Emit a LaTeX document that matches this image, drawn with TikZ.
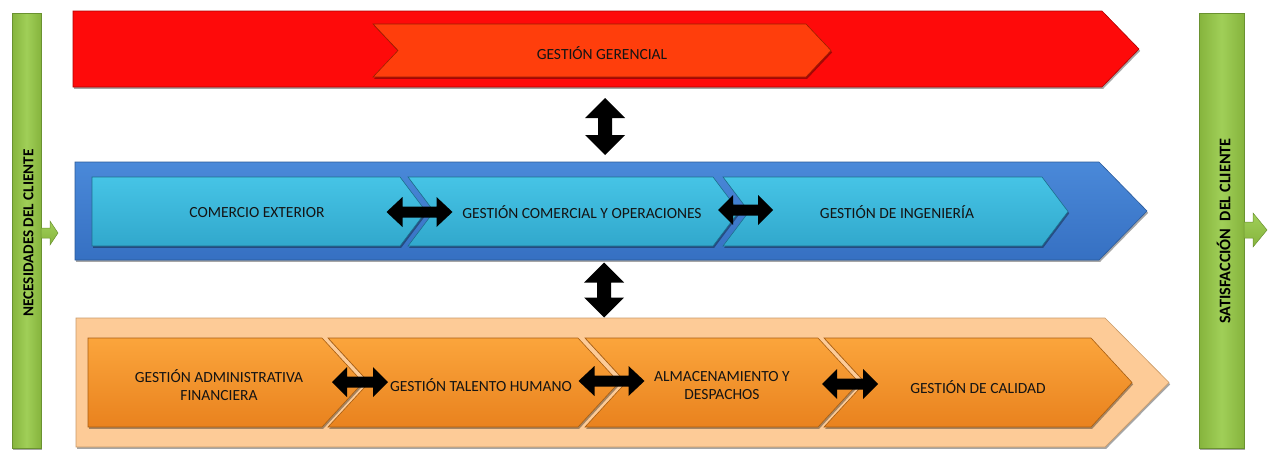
\documentclass[tikz,border=0pt]{standalone}
\usepackage{fontspec}
\setmainfont{Carlito}
\usetikzlibrary{shadows}

\definecolor{redband}{HTML}{FE0A0A}
\definecolor{redline}{HTML}{B00000}
\definecolor{redchev}{HTML}{FF3E0C}
\definecolor{redchevline}{HTML}{9A2000}
\definecolor{bluetop}{HTML}{4A89D9}
\definecolor{bluebot}{HTML}{3670C2}
\definecolor{blueline}{HTML}{2A5A9A}
\definecolor{cyantop}{HTML}{46C4E6}
\definecolor{cyanbot}{HTML}{31A8CC}
\definecolor{cyanline}{HTML}{1E6F8E}
\definecolor{peach}{HTML}{FDCB97}
\definecolor{peachline}{HTML}{C89A68}
\definecolor{orangetop}{HTML}{FBA53C}
\definecolor{orangebot}{HTML}{E9821E}
\definecolor{orangeline}{HTML}{A85E12}
\definecolor{greenmid}{HTML}{A0CF58}
\definecolor{greenedge}{HTML}{86B43D}
\definecolor{greenline}{HTML}{6A9230}
\definecolor{labelink}{HTML}{141414}

\tikzset{
  softshadow/.style={drop shadow={shadow xshift=1.2pt, shadow yshift=-1.8pt, opacity=0.35, fill=black}},
  redbandst/.style={fill=redband, draw=redline, line width=0.6pt, softshadow},
  redchevst/.style={fill=redchev, draw=redchevline, line width=0.6pt, softshadow},
  bluebandst/.style={top color=bluetop, bottom color=bluebot, draw=blueline, line width=0.6pt, softshadow},
  cyanchevst/.style={top color=cyantop, bottom color=cyanbot, draw=cyanline, line width=0.6pt, softshadow},
  peachbandst/.style={fill=peach, draw=peachline, line width=0.6pt, softshadow},
  orangechevst/.style={top color=orangetop, bottom color=orangebot, draw=orangeline, line width=0.6pt, softshadow},
  greenbarst/.style={left color=greenedge, right color=greenedge, middle color=greenmid, draw=greenline, line width=0.6pt, softshadow},
  greenarrowst/.style={top color=greenmid, bottom color=greenedge, draw=greenline, line width=0.5pt},
  arrowfill/.style={fill=black},
  lbl/.style={text=labelink, font=\fontsize{15.5}{18}\selectfont, inner sep=0pt, align=center},
  sidelbl/.style={text=black, font=\fontsize{15.2}{17}\selectfont\bfseries, inner sep=0pt, rotate=90}
}

% block double arrow: centre x, centre y, angle, half length, head length, head half width, shaft half width
\newcommand\blockdbl[7]{%
  \fill[arrowfill, shift={(#1,#2)}, rotate=#3]
    (-#4,0) -- (-#4+#5,-#6) -- (-#4+#5,-#7) -- (#4-#5,-#7) -- (#4-#5,-#6) -- (#4,0)
    -- (#4-#5,#6) -- (#4-#5,#7) -- (-#4+#5,#7) -- (-#4+#5,#6) -- cycle;}

\begin{document}
\begin{tikzpicture}[x=1pt, y=-1pt]
\useasboundingbox (0,0) rectangle (1271,450);

% customer side bars
\path[greenbarst] (12,13) rectangle (41,448);
\path[greenbarst] (1199,13) rectangle (1244,448);
\path[greenarrowst] (41,228) -- (50,228) -- (50,221) -- (58,233) -- (50,245) -- (50,238) -- (41,238) -- cycle;
\path[greenarrowst] (1244,222) -- (1253,222) -- (1253,213) -- (1267,230) -- (1253,247) -- (1253,238) -- (1244,238) -- cycle;
\node[sidelbl] (nec) at (28.5,233) {NECESIDADES DEL CLIENTE};
\node[sidelbl, font=\fontsize{16.2}{18}\selectfont\bfseries] (sat) at (1223.5,231) {SATISFACCIÓN\ \ DEL CLIENTE};

% management level
\path[redbandst] (73,11) -- (1102,11) -- (1139,49) -- (1102,87) -- (73,87) -- cycle;
\path[redchevst] (373,24) -- (806,24) -- (831,50.5) -- (806,77) -- (373,77) -- (398,50.5) -- cycle;
\node[lbl] (gg) at (602,53) {GESTIÓN GERENCIAL};

% core processes
\path[bluebandst] (75,162) -- (1099,162) -- (1147,211) -- (1099,260) -- (75,260) -- cycle;
\path[cyanchevst] (92,177) -- (400,177) -- (426,211.5) -- (400,246) -- (92,246) -- cycle;
\path[cyanchevst] (408,177) -- (713,177) -- (739,211.5) -- (713,246) -- (408,246) -- (434,211.5) -- cycle;
\path[cyanchevst] (723,177) -- (1042,177) -- (1068,211.5) -- (1042,246) -- (723,246) -- (749,211.5) -- cycle;
\node[lbl] (ce) at (257,213) {COMERCIO EXTERIOR};
\node[lbl] (gco) at (582,212) {GESTIÓN COMERCIAL Y OPERACIONES};
\node[lbl] (gi) at (897,212) {GESTIÓN DE INGENIERÍA};

% support processes
\path[peachbandst] (76,318) -- (1105,318) -- (1169,382.5) -- (1105,447) -- (76,447) -- cycle;
\path[orangechevst] (88,338) -- (322,338) -- (363,382.5) -- (322,427) -- (88,427) -- cycle;
\path[orangechevst] (328,338) -- (578,338) -- (619,382.5) -- (578,427) -- (328,427) -- (369,382.5) -- cycle;
\path[orangechevst] (585,338) -- (818,338) -- (859,382.5) -- (818,427) -- (585,427) -- (626,382.5) -- cycle;
\path[orangechevst] (824,338) -- (1091,338) -- (1132,382.5) -- (1091,427) -- (824,427) -- (865,382.5) -- cycle;
\node[lbl] (gaf) at (219,385) {GESTIÓN ADMINISTRATIVA\\FINANCIERA};
\node[lbl] (gth) at (481,385) {GESTIÓN TALENTO HUMANO};
\node[lbl] (ad) at (722,386) {ALMACENAMIENTO Y\\DESPACHOS};
\node[lbl] (gc) at (978,387) {GESTIÓN DE CALIDAD};

% links between levels
\blockdbl{605}{126.5}{90}{28.5}{20}{20}{7}
\blockdbl{604}{290}{90}{27.5}{20}{20}{7}

% links between processes
\blockdbl{419.5}{212}{0}{33}{16}{15}{5.5}
\blockdbl{745.5}{210}{0}{27.5}{15}{15}{5.5}
\blockdbl{360}{382}{0}{28}{15}{15}{5.5}
\blockdbl{611.5}{381}{0}{33}{16}{15}{5.5}
\blockdbl{850}{384}{0}{28}{15}{15}{5.5}
\end{tikzpicture}
\end{document}
